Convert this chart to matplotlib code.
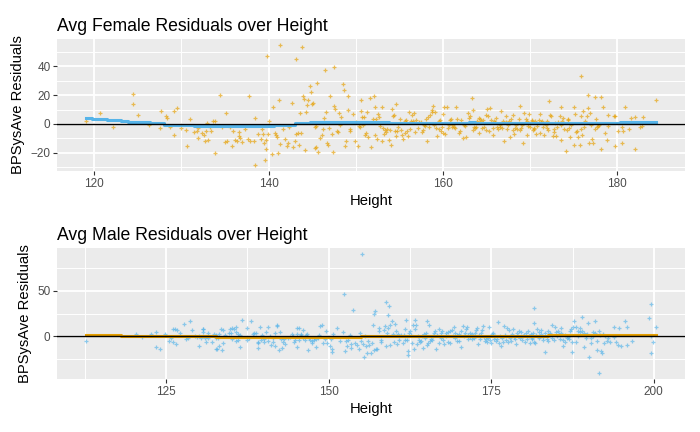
import matplotlib
matplotlib.use("Agg")
import matplotlib.pyplot as plt
from matplotlib.ticker import MultipleLocator

plt.rcParams['font.family'] = ['Liberation Sans', 'DejaVu Sans']

# female residuals (height in cm, residual of BPSysAve)
female_height = [
    119.0, 120.7, 122.2, 124.5, 124.4, 125.0, 126.3, 127.7, 127.6, 128.2, 128.4, 128.7, 129.1, 129.5, 129.2,
    130.0, 130.5, 130.7, 131.0, 131.5, 131.8, 131.9, 131.9, 132.4, 132.6, 132.8, 132.7, 132.9, 133.1, 133.3,
    133.4, 133.6, 133.8, 133.9,
    134.4, 134.7, 135.1, 135.0, 135.2, 135.6, 135.8, 135.9, 136.2, 136.4, 136.6, 136.6, 136.7, 136.9, 137.3,
    137.6, 137.8, 137.9, 138.3, 138.4, 138.5, 138.8, 139.1, 139.2, 139.4, 139.5, 139.6, 139.7, 139.7, 139.8,
    139.9, 140.1, 140.4, 140.5, 140.7, 140.8, 141.0, 141.1, 141.2, 141.3, 141.3, 141.6, 141.9, 142.1, 142.2,
    142.4, 142.7, 142.8, 143.0, 143.1, 143.2, 143.4, 143.5, 143.6, 143.7, 143.8, 143.9, 144.1, 144.2, 144.3,
    144.4, 144.5, 144.8, 144.9, 145.0, 145.1, 145.3, 145.3, 145.4, 145.5, 145.6, 145.7, 145.9, 146.1, 146.3,
    146.4, 146.5, 146.6, 146.7, 146.8, 146.9, 147.0, 147.3, 147.4, 147.5, 147.5, 147.6, 147.8, 148.0, 148.1,
    148.2, 148.3, 148.5, 148.6, 148.8, 148.9, 149.1, 149.1, 149.3, 149.4, 149.7, 149.9, 150.0, 150.3, 150.4,
    150.5, 150.6, 150.6, 150.7, 150.8, 150.9, 151.1, 151.2, 151.3, 151.4, 151.6, 151.8, 152.0, 152.1,
    152.2, 152.2, 152.4, 152.3, 152.6, 152.7, 152.8, 153.0, 153.0, 153.1, 153.3, 153.4, 153.5, 153.6, 153.8,
    153.9, 154.1, 154.2, 154.3, 154.4, 154.5, 154.6, 154.6, 154.7, 154.9, 155.1, 155.2, 155.3, 155.4, 155.6,
    155.7, 155.8, 155.9, 156.0, 156.1, 156.2, 156.4, 156.5, 156.6, 156.7, 156.8, 156.9, 157.2, 157.3, 157.5,
    157.6, 157.7, 157.8, 158.0, 158.1, 158.2, 158.3, 158.4, 158.5, 158.7, 158.8, 158.9, 159.0, 159.1, 159.2,
    159.3, 159.5, 159.6, 159.7, 159.8, 159.9, 160.0, 160.0, 160.1, 160.3, 160.5, 160.6, 160.7, 160.8, 160.9,
    161.1, 161.2, 161.3, 161.4, 161.5, 161.6, 161.9, 162.0, 162.1, 162.3, 162.4, 162.5, 162.7, 162.9, 163.0,
    163.1, 163.3, 163.4, 163.5, 163.6, 163.7, 163.8, 163.9, 164.1, 164.2, 164.3, 164.4, 164.5, 164.6, 164.7,
    164.9, 165.0, 165.1, 165.2, 165.3, 165.4, 165.5, 165.7, 165.8, 165.9, 166.0, 166.1, 166.2, 166.3, 166.5,
    166.6, 166.7, 166.8, 166.9, 167.0, 167.2, 167.3, 167.4, 167.5, 167.6, 167.7, 167.8, 168.0, 168.1, 168.2,
    168.3, 168.4, 168.5, 168.7, 168.8, 168.9, 169.0, 169.1, 169.2, 169.3, 169.5, 169.6, 169.7, 169.8, 169.9,
    170.0, 170.2,
    170.2, 170.3, 170.4, 170.5, 170.6, 170.7, 170.8, 171.0, 171.1, 171.2, 171.3, 171.4, 171.5, 171.6, 171.8,
    171.9, 172.0, 172.1, 172.2, 172.3, 172.4, 172.6, 172.7, 172.8, 172.9, 173.0, 173.1, 173.2, 173.4, 173.5,
    173.5, 173.6, 173.7, 173.8, 173.9, 174.1, 174.2, 174.3, 174.4, 174.5, 174.6, 174.7, 175.0, 175.1, 175.2,
    175.3, 175.4, 175.5, 175.7, 175.8, 175.8, 175.9, 176.0, 176.1, 176.2, 176.3, 176.5, 176.6, 176.7, 176.8,
    176.9, 177.0, 177.1, 177.2, 177.4, 177.5, 177.6, 177.7, 177.8, 177.9, 178.2, 178.2, 178.4, 178.6, 178.8,
    178.9, 179.0, 179.6, 179.7, 179.8, 180.1, 180.5, 180.6, 180.7, 180.9, 181.3, 181.6, 182.0, 182.1, 182.6,
    182.9, 183.0, 184.5,
]
female_resid = [
    2.1, 7.6, -2.1, 20.8, 13.9, 6.2, -0.7, 9.0, -2.8, 5.3, 3.9, -2.1, 9.0, 11.1, -7.6,
    -2.8, -4.2, -15.3, 3.5, -5.6, -4.9, -2.8, -9.7, -6.3, -7.6, -4.9, -11.8, 0.7, -11.1, -2.1,
    -4.9, 2.1, 2.1, -20.1,
    20.1, -2.1, 7.6, -12.5, -11.8, -2.1, -15.3, -4.9, -11.1, -11.8, -5.6, -8.3, -9.7, -12.5, -3.5,
    -10.4, 19.4, -11.8, -11.8, 4.2, -28.5, -6.9, -10.4, -3.5, -6.9, -13.2, -25.0, -17.4, -11.1, 47.2,
    -6.9, 2.1, -20.8, 11.8, -6.3, -7.6, -9.0, -20.1, 16.7, 54.9, -13.9, -3.5, -10.4, -15.3, -13.2,
    -2.1, 14.6, -16.0, -11.8, -6.9, 45.1, -6.3, -14.6, 7.6, -6.3, 53.5, 19.4, 17.4, -18.1, 8.3,
    13.2, 16.7, 26.4, 22.2, 13.9, 14.6, -2.1, -16.7, -16.0, -1.4, 28.5, -19.4, -9.7, -7.6, -3.5,
    4.2, 37.5, 8.3, -13.2, -14.6, -2.8, 19.4, -6.9, -19.4, 39.6, 12.5, 10.4, -4.9, -5.6, 7.6,
    -0.7, 4.9, 27.8, 23.6, -15.3, -11.8, 19.4, 9.7, -4.9, -3.5, 6.9, -11.8, 1.4, -15.3, -1.4,
    -2.1, 16.7, 9.0, 4.9, -0.7, 4.9, -7.6, -6.3, 8.3, -9.0, 18.1, -16.0, 3.5, 19.4,
    11.8, -7.6, -10.4, 3.5, 6.9, 4.9, -1.4, 11.8, -11.8, -2.8, -6.9, -4.2, -5.6, -3.5, -11.1,
    -4.2, -14.6, 10.4, 5.6, 6.2, -4.9, 13.9, -8.3, -4.9, -2.1, 3.5, -4.2, -7.6, -10.4, -6.3,
    2.1, 2.8, -4.9, -8.3, 8.3, -3.5, 2.1, 6.2, 2.1, 7.6, -5.6, 2.8, -2.8, 1.4, 1.4,
    -5.6, -4.2, -0.7, -1.4, 3.5, -11.8, 4.9, -2.1, 6.2, 9.7, 8.3, 12.5, -0.7, 8.3, -2.8,
    -8.3, 2.1, -3.5, 2.8, -4.9, -2.1, 6.9, -6.3, 11.8, -6.9, 11.8, -2.8, -0.7, 2.8, 3.5,
    -2.1, -0.7, -2.1, -2.8, 11.8, 3.5, -6.3, -4.9, 2.8, -9.7, -0.7, -1.4, -9.0, 7.6, 4.2,
    5.6, 18.1, 9.7, -4.2, -2.1, -2.8, -2.1, 2.1, -6.3, 4.2, 3.5, 2.1, -2.8, 2.8, -2.1,
    -4.2, 6.2, 10.4, 5.6, -4.9, 11.1, 2.8, -2.8, -7.6, 2.1, 1.4, 4.2, -2.1, -3.5, -2.1,
    -0.7, 9.0, -2.8, 2.1, -11.8, 5.6, 1.4, -3.5, -0.7, 2.1, -9.0, 3.5, 6.2, -4.2, -6.9,
    -2.8, -0.7, -3.5, 3.5, 12.5, -4.2, -2.8, -0.7, -13.2, 7.6, 3.5, -7.6, 2.1, -1.4, 6.9,
    -2.1, 2.8,
    2.1, -4.2, -2.8, -3.5, 2.1, -6.9, -1.4, 2.8, 6.9, -6.3, 1.4, 2.1, -2.1, -7.6, -0.7,
    2.1, -2.8, -4.2, 16.0, 6.2, 5.6, -8.3, -5.6, -3.5, 0.7, -8.3, -2.1, 1.4, 5.6, 11.8,
    -11.1, -0.7, 2.1, 4.2, -3.5, -18.8, -4.2, 2.8, 3.5, -2.8, -9.0, -0.7, 11.8, -14.6, 6.9,
    -5.6, -4.9, -9.0, -14.6, 5.6, -3.5, 33.3, -7.6, 9.0, -2.1, 2.1, 5.6, 11.1, 20.1, -13.2,
    7.6, -0.7, -10.4, -13.2, -3.5, 18.8, 3.5, -2.1, -1.4, -0.7, 18.8, -17.4, 11.8, -6.3, -11.1,
    -1.4, 6.2, 5.6, -15.3, 5.6, -4.9, -13.2, -2.1, -4.9, 11.8, -3.5, 4.2, 4.9, -17.4, -2.1,
    -1.4, 4.9, 16.7,
]

# male residuals
male_height = [
    112.6, 120.4, 121.3, 122.6, 123.4, 123.5, 124.0, 124.9, 125.5, 125.7, 126.0, 126.1, 126.4, 126.5, 126.7,
    127.2, 127.7, 128.0, 128.4, 128.6, 128.9, 129.4, 129.7, 130.0, 130.1, 130.3, 130.6, 130.6, 130.7, 130.9,
    131.2, 131.4, 131.5, 132.0, 132.3, 132.6, 132.6,
    132.6, 132.8, 132.9, 133.1, 133.2, 133.4, 133.6, 133.7, 133.7, 134.0, 134.6, 134.8, 134.9, 135.1, 135.2,
    135.5, 135.7, 135.7, 135.8, 136.0, 136.1, 136.3, 136.4, 136.6, 137.4, 137.5, 137.7, 138.0, 138.3, 138.5,
    138.8, 139.1, 139.2, 139.2, 139.4, 139.6, 139.7, 140.0, 140.1, 140.3, 140.6, 140.6, 140.9, 141.1, 141.4,
    141.5, 141.7, 141.8, 142.0, 142.1, 142.3, 142.5, 142.6, 142.8, 143.0, 143.1, 143.3, 143.7, 144.0, 144.3,
    144.5, 144.6, 144.8, 145.1, 145.1, 145.2, 145.4, 145.5, 145.7, 145.8, 146.0, 146.1, 146.3, 146.5, 146.6,
    146.8, 146.9, 147.1, 147.4, 147.5, 147.7, 147.8, 148.0, 148.1, 148.3, 148.5, 148.6, 148.9, 149.2, 149.4,
    149.6, 149.7, 150.2, 150.4, 150.5, 150.5, 150.6, 151.2, 151.7, 152.2, 152.3, 152.5, 152.6, 152.8, 152.9,
    153.2, 153.4, 153.5, 153.7, 154.0, 154.3, 154.6, 154.8, 154.9, 155.1, 155.3, 155.4, 155.6, 155.7, 155.9,
    156.0, 156.2, 156.5, 156.6, 156.8, 156.9, 156.9,
    157.1, 157.2, 157.5, 157.7, 157.8, 158.0, 158.1, 158.5, 158.6, 158.8, 158.8, 158.9, 159.1, 159.1, 159.2,
    159.4, 159.5, 159.7, 159.9, 160.0, 160.2, 160.3, 160.5, 160.6, 160.8, 161.1, 161.4, 161.6, 161.7, 161.7,
    161.9, 162.0, 162.2, 162.2, 162.4, 162.5, 162.7, 162.8, 163.0, 163.1, 163.3, 163.3, 163.4, 163.6, 163.7,
    163.9, 164.0, 164.2, 164.4, 164.5, 164.7, 164.8, 165.0, 165.1, 165.1, 165.3, 165.5, 165.6, 165.8, 165.9,
    166.1, 166.2, 166.4, 166.5, 166.7, 166.9, 167.0, 167.2, 167.3, 167.5, 167.6, 167.8, 168.0, 168.1, 168.3,
    168.4, 168.6, 168.7, 168.9, 169.1, 169.2, 169.4, 169.5, 169.7, 169.8, 170.0, 170.1, 170.3, 170.4, 170.6,
    170.8, 170.9, 171.1, 171.2, 171.4, 171.5, 171.7, 171.8, 172.0, 172.1, 172.3, 172.5, 172.6, 172.8, 172.9,
    173.1, 173.2, 173.4, 173.6, 173.7, 173.9, 174.0, 174.2, 174.3, 174.5, 174.6, 174.8, 174.9, 175.1, 175.3,
    175.4, 175.6, 175.7, 175.9, 176.0, 176.2, 176.3, 176.5, 176.6, 176.8, 176.9, 177.1, 177.3, 177.4, 177.6,
    177.7, 177.9, 178.0, 178.2, 178.3, 178.5, 178.6, 178.8, 178.9, 179.1, 179.2, 179.4, 179.5, 179.7, 179.9,
    180.0, 180.2, 180.3, 180.5, 180.6, 180.8, 180.9, 181.1, 181.2,
    181.1, 181.2, 181.4, 181.5, 181.6, 181.6, 181.8, 181.9, 182.1, 182.3, 182.4, 182.6, 182.7, 182.9, 183.0,
    183.2, 183.3, 183.5, 183.7, 183.8, 184.0, 184.1, 184.3, 184.4, 184.6, 184.8, 184.9, 185.1, 185.2, 185.4,
    185.5, 185.7, 185.8, 186.0, 186.1, 186.3, 186.4, 186.6, 186.8, 186.9, 187.1, 187.2, 187.4, 187.4, 187.5,
    187.8, 188.0, 188.1, 188.3, 188.4, 188.6, 188.7, 188.9, 189.0, 189.2, 189.3, 189.5, 189.6, 189.8, 189.9,
    190.1, 190.3, 190.4, 190.6, 190.7, 190.9, 191.0, 191.2, 191.3, 191.6, 191.8, 191.9, 192.1, 192.2, 192.4,
    192.5, 191.6, 192.8, 193.0, 193.3, 193.9, 193.9, 194.2, 194.5, 194.7, 195.0, 195.6, 195.9, 195.9, 196.7,
    199.3, 199.5, 199.6, 199.6, 199.9, 200.4,
]
male_resid = [
    -5.4, 2.2, -1.1, 2.2, 4.3, -12.0, -14.1, 2.2, -5.4, -2.2, 7.6, -6.5, 7.6, -8.7, 6.5,
    3.3, 13.0, -3.3, -2.2, 16.3, 6.5, 0.0, -1.1, 0.0, -10.9, -2.2, 7.6, 4.3, 7.6, -2.2,
    -6.5, -2.2, 3.3, -6.5, 2.2, -2.2, -14.1,
    1.1, -14.1, -2.2, 2.2, -10.9, 7.6, -15.2, 6.5, -7.6, 1.1, 3.3, 7.6, 3.3, 8.7, -3.3,
    7.6, 4.3, -5.4, 9.8, -4.3, 2.2, -12.0, 1.1, 17.4, -4.3, 8.7, -2.2, 16.3, 2.2, 3.3,
    3.3, -6.5, -13.0, -7.6, 9.8, -4.3, 1.1, -6.5, -3.3, 4.3, 9.8, -5.4, 0.0, -9.8, -2.2,
    -6.5, -10.9, 3.3, 12.0, 10.9, -15.2, 4.3, -3.3, -13.0, -6.5, -3.3, -8.7, -2.2, -1.1, 2.2,
    0.0, -6.5, -4.3, 8.7, -12.0, 2.2, -4.3, 8.7, 1.1, 2.2, 6.5, -2.2, -4.3, 1.1, 2.2,
    -15.2, -2.2, -4.3, -7.6, -5.4, -2.2, -4.3, -12.0, -3.3, -2.2, 1.1, 10.9, 12.0, -7.6, -3.3,
    5.4, -7.6, -10.9, -3.3, -14.1, -17.4, 2.2, 8.7, -5.4, 4.3, 46.7, -16.3, -5.4, -10.9, -4.3,
    1.1, -13.0, -8.7, 28.3, -7.6, -9.8, -14.1, 3.3, -5.4, 90.2, -8.7, -22.8, 0.0, -10.9, -18.5,
    -5.4, -9.8, -18.5, -7.6, 12.0, 24.3, -15.2,
    27.2, -14.1, -14.1, 8.7, 5.4, -4.3, -6.5, 6.5, 10.9, -10.9, 38.0, 3.3, 23.9, 8.7, 33.7,
    12.0, -9.8, 16.3, 2.2, -6.5, 13.0, 5.4, -8.7, 2.2, -4.3, 1.1, -7.6, 1.1, 7.6, -4.3,
    17.4, -4.3, -16.3, -20.7, 3.3, 5.4, 1.1, -7.6, 12.0, -14.1, 17.4, 7.6, 12.0, -8.7, 0.0,
    -4.3, -6.5, -5.4, 0.0, -13.0, 2.2, -2.2, 3.3, 16.3, -9.8, -7.6, 12.0, -5.4, -3.3, -4.3,
    0.0, 3.3, 5.4, -14.1, 1.1, 7.6, -7.6, -2.2, 3.3, 5.4, -4.3, -8.7, 0.0, 3.3, 4.3,
    -6.5, -7.6, 5.4, 6.5, 0.0, 9.8, 3.3, -2.2, -5.4, 1.1, 2.2, -5.4, -12.0, 5.4, 10.9,
    0.0, 3.3, 7.6, 9.8, -3.3, 1.1, -1.1, 3.3, -3.3, 2.2, -2.2, 3.3, 6.5, 8.7, -8.7,
    1.1, -3.3, 3.3, 6.5, 10.9, -1.1, -5.4, -3.3, -6.5, -2.2, 9.8, -4.3, -7.6, 2.2, 3.3,
    -3.3, 0.0, -5.4, -3.3, 15.2, -7.6, 0.0, -10.9, -2.2, -6.5, 10.9, 1.1, -4.3, 8.7, -6.5,
    6.5, -2.2, -5.4, 2.2, 7.6, -1.1, -3.3, -8.7, 3.3, 0.0, 5.4, -2.2, 4.3, -4.3, 0.0,
    1.1, -6.5, 3.3, -3.3, 5.4, 0.0, -7.6, 2.2, -2.2,
    0.0, -3.3, 3.3, -6.5, 31.5, 14.1, -7.6, 1.1, 7.6, -2.2, 4.3, 2.2, 6.5, -1.1, -4.3,
    3.3, -17.4, -3.3, -5.4, 5.4, 1.1, 3.3, 12.0, -2.2, -4.3, 9.8, 4.3, 0.0, 5.4, 2.2,
    -3.3, 8.7, 3.3, -4.3, -10.9, -6.5, 1.1, -2.2, -1.1, -3.3, 5.4, 7.6, -17.4, -6.5, 9.8,
    16.3, 9.8, -6.5, 5.4, 0.0, 8.7, 4.3, 5.4, 20.7, 3.3, -12.0, -2.2, 1.1, 2.2, 14.1,
    -22.8, -2.2, -7.6, 0.0, 4.3, 3.3, 16.3, -15.2, -5.4, 5.4, 1.1, -16.3, -18.5, 2.2, -7.6,
    0.0, -40.2, -5.4, -2.2, -6.5, 9.8, -1.1, -6.5, -9.8, 8.7, -10.9, 16.3, 9.8, -9.8, -5.4,
    19.6, 35.9, -18.5, 0.0, -6.5, 9.8,
]

# binned average residuals (step edges and bin means)
female_avg_edges = [119.0, 119.8, 121.5, 123.1, 123.9, 126.4, 128.0, 131.4, 140.6, 143.0, 144.7, 153.8, 163.0, 163.7, 180.3, 184.5]
female_avg = [3.9, 3.2, 2.5, 1.8, 1.1, 0.4, -0.5, -1.2, -0.7, 0.7, 1.1, 0.4, 1.1, 0.4, 1.1]
male_avg_edges = [112.6, 118.1, 132.7, 155.0, 183.8, 200.3]
male_avg = [1.7, 0.7, -0.7, 0.3, 1.0]

ORANGE = "#E69F00"
SKY = "#56B4E9"
BG = "#EBEBEB"


def style_axes(ax, xmaj, ymaj, title):
    ax.set_facecolor(BG)
    for s in ax.spines.values():
        s.set_visible(False)
    ax.xaxis.set_major_locator(MultipleLocator(xmaj))
    ax.xaxis.set_minor_locator(MultipleLocator(xmaj / 2))
    ax.yaxis.set_major_locator(MultipleLocator(ymaj))
    ax.yaxis.set_minor_locator(MultipleLocator(ymaj / 2))
    ax.grid(which="major", color="white", linewidth=1.35, zorder=0)
    ax.grid(which="minor", color="white", linewidth=0.7, zorder=0)
    ax.set_axisbelow(True)
    ax.tick_params(which="major", length=2.7, width=0.8, color="#333333",
                   labelsize=8.5, labelcolor="#4D4D4D", pad=2)
    ax.tick_params(which="minor", length=0)
    ax.set_xlabel("Height", fontsize=10.6, labelpad=3)
    ax.set_ylabel("BPSysAve Residuals", fontsize=10.6, labelpad=4)
    ax.set_title(title, loc="left", fontsize=12.7, pad=6)


fig = plt.figure(figsize=(7, 4.32), dpi=100)
ax1 = fig.add_axes([0.0814, 0.6042, 0.8971, 0.3056])
ax2 = fig.add_axes([0.0814, 0.1227, 0.8971, 0.3032])

ax1.plot(female_height, female_resid, linestyle="none", marker="+", markersize=2.9,
         markeredgewidth=0.9, color=ORANGE, alpha=0.65, zorder=2)
ax1.step(female_avg_edges, female_avg + [female_avg[-1]], where="post",
         color=SKY, linewidth=2.2, zorder=3)
ax1.axhline(0, color="black", linewidth=1.0, zorder=4)
style_axes(ax1, 20, 20, "Avg Female Residuals over Height")

ax2.plot(male_height, male_resid, linestyle="none", marker="+", markersize=2.9,
         markeredgewidth=0.9, color=SKY, alpha=0.65, zorder=2)
ax2.step(male_avg_edges, male_avg + [male_avg[-1]], where="post",
         color=ORANGE, linewidth=2.2, zorder=3)
ax2.axhline(0, color="black", linewidth=1.0, zorder=4)
style_axes(ax2, 25, 50, "Avg Male Residuals over Height")

fig.savefig("out.png", dpi=100)
